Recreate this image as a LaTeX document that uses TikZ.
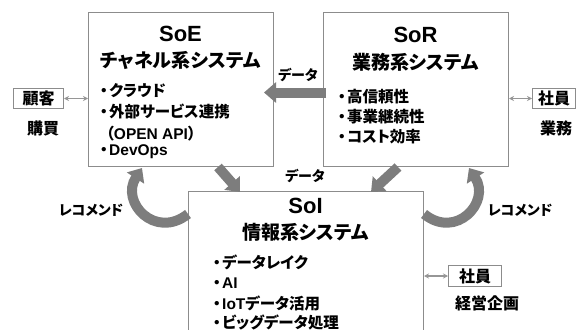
\documentclass[tikz,border=0pt]{standalone}
\usepackage{fontspec}
\setmainfont{Noto Sans CJK JP}[RawFeature=+palt]
\newfontfamily\jpfull{Noto Sans CJK JP}
\newfontfamily\latfont{Liberation Sans}
\newcommand{\dotb}{{\jpfull ・}\kern-2.5pt}
\usetikzlibrary{arrows.meta}
\definecolor{boxgray}{RGB}{140,140,140}
\definecolor{arrowgray}{RGB}{125,125,125}
\definecolor{thingray}{RGB}{150,150,150}
\tikzset{
  box/.style={draw=boxgray, line width=1pt, fill=white, inner sep=0pt, anchor=north west},
  ttllat/.style={font=\latfont\bfseries\fontsize{22}{24}\selectfont, inner sep=0pt},
  ttljp/.style={font=\bfseries\fontsize{19}{22}\selectfont, inner sep=0pt},
  itm/.style={font=\bfseries\fontsize{15.5}{18}\selectfont, anchor=west, inner sep=0pt},
  lbl/.style={font=\bfseries\fontsize{16}{18}\selectfont, inner sep=0pt},
  sml/.style={font=\bfseries\fontsize{14}{16}\selectfont, inner sep=0pt},
  fat/.style={draw=arrowgray, line width=10pt, -{Triangle[length=12pt,width=20pt]}},
  dbl/.style={draw=thingray, line width=1.4pt, {Stealth[length=5pt,width=5pt]}-{Stealth[length=5pt,width=5pt]}},
}
\begin{document}
\begin{tikzpicture}[x=1pt,y=-1pt]
\useasboundingbox (0,0) rectangle (580,329);
\clip (0,0) rectangle (580,329);
\fill[white] (0,0) rectangle (580,329);

% main boxes
\node[box, minimum width=185pt, minimum height=154pt] (soe) at (88,12) {};
\node[box, minimum width=185pt, minimum height=154pt] (sor) at (323,12) {};
\node[box, minimum width=235pt, minimum height=170pt] (soi) at (188,191) {};

% side boxes
\node[box, minimum width=50pt, minimum height=20pt] (kokyaku) at (13,88) {};
\node[lbl] (kokyakut) at (kokyaku.center) {顧客};
\node[box, minimum width=43pt, minimum height=20pt] (shainr) at (532,88) {};
\node[lbl] (shainrt) at (shainr.center) {社員};
\node[box, minimum width=53pt, minimum height=21pt] (shainb) at (448,265) {};
\node[lbl] (shainbt) at (shainb.center) {社員};

\node[lbl] (kounyu) at (43,128) {購買};
\node[lbl, anchor=west] (gyomu) at (540,128) {業務};
\node[lbl] (keiei) at (487,303) {経営企画};

% SoE text
\node[ttllat] (soet) at (180.5,34) {SoE};
\node[ttljp] (soej) at (180.5,60) {チャネル系システム};
\node[itm] (e1) at (96,91) {\dotb クラウド};
\node[itm] (e2) at (96,112) {\dotb 外部サービス連携};
\node[itm] (e3) at (106,134) {（{\latfont OPEN API}）};
\node[itm] (e4) at (96,152) {\dotb{\latfont DevOps}};

% SoR text
\node[ttllat] (sort) at (415.5,35) {SoR};
\node[ttljp] (sorj) at (415.5,62) {業務系システム};
\node[itm] (r1) at (334,97) {\dotb 高信頼性};
\node[itm] (r2) at (334,117) {\dotb 事業継続性};
\node[itm] (r3) at (334,137) {\dotb コスト効率};

% SoI text
\node[ttllat] (soit) at (305.5,206) {SoI};
\node[ttljp] (soij) at (305.5,232) {情報系システム};
\node[itm] (i1) at (209,262) {\dotb データレイク};
\node[itm] (i2) at (209,283) {\dotb{\latfont AI}};
\node[itm] (i3) at (209,303) {\dotb{\latfont IoT}データ活用};
\node[itm] (i4) at (209,322) {\dotb ビッグデータ処理};

% labels
\node[sml] (data1) at (298,75) {データ};
\node[sml] (data2) at (305,176) {データ};
\node[sml] (reco1) at (91,210) {レコメンド};
\node[sml] (reco2) at (520,210) {レコメンド};

% thick arrows
\draw[fat] ([shift={(3pt,-3pt)}]sor.west) -- ([shift={(-10pt,-3pt)}]soe.east);
\draw[fat] ([xshift=37pt]soe.south) -- ([xshift=-66pt,yshift=-1pt]soi.north);
\draw[fat] ([xshift=-18pt]sor.south) -- ([xshift=65pt,yshift=-1pt]soi.north);

% curved arrows
\coordinate (lt) at (142,168);
\coordinate (rt) at (469,168);
\draw[fat] ([yshift=-23pt]soi.north west) .. controls (155,240) and (120,202) .. (lt);
\draw[fat] ([yshift=-23pt]soi.north east) .. controls (456,240) and (491,202) .. (rt);

% double arrows
\draw[dbl] (kokyaku.east) -- (kokyaku.east -| soe.west);
\draw[dbl] (shainr.west -| sor.east) -- (shainr.west);
\draw[dbl] (shainb.west -| soi.east) -- (shainb.west);
\end{tikzpicture}
\end{document}
